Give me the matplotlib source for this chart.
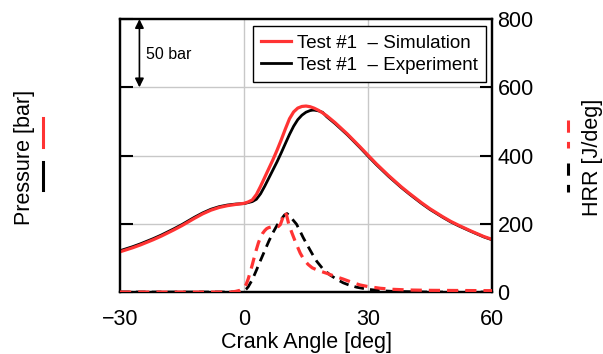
import numpy as np
import matplotlib
matplotlib.use("Agg")
from matplotlib import pyplot as plt
from matplotlib.lines import Line2D

plt.rcParams['font.family'] = ['Liberation Sans', 'DejaVu Sans']

# pressure [bar]
p_sim_ca = [-30, -27, -25, -22, -20, -17, -15, -12, -10, -8, -6, -4, -2, 0, 1, 2, 3, 4, 5, 6,
            7, 8, 9, 10, 11, 12, 13, 14, 15, 16, 17, 18, 19, 20, 22, 25, 28, 30, 32, 35, 38,
            40, 43, 45, 48, 50, 52, 55, 58, 60]
p_sim = [29.5, 32.4, 34.6, 38.3, 41.0, 45.5, 48.7, 54.0, 57.3, 60.0, 62.0, 63.3, 64.2, 65.0,
         66.0, 67.5, 71.5, 77.5, 84.0, 90.5, 97.0, 104.0, 111.5, 119.5, 127.0, 132.0, 134.8,
         136.0, 136.3, 135.8, 134.7, 133.2, 131.3, 129.2, 124.2, 115.8, 106.6, 100.3, 94.0,
         85.3, 77.2, 72.3, 65.3, 61.0, 55.3, 51.8, 48.8, 44.6, 40.7, 38.6]

p_exp_ca = [-30, -27, -25, -22, -20, -17, -15, -12, -10, -8, -6, -4, -2, 0, 2, 3, 4, 5, 6, 7,
            8, 9, 10, 11, 12, 13, 14, 15, 16, 16.6, 17, 18, 19, 20, 22, 25, 28, 30, 32, 35,
            38, 40, 43, 45, 48, 50, 52, 55, 58, 60]
p_exp = [30.3, 33.2, 35.4, 39.1, 41.8, 46.3, 49.5, 54.8, 58.0, 60.7, 62.6, 63.8, 64.5, 64.8,
         66.3, 68.0, 72.0, 77.5, 83.5, 89.5, 95.5, 102.0, 108.8, 115.5, 121.5, 126.3, 129.6,
         131.8, 133.0, 133.3, 133.3, 132.8, 131.7, 128.5, 123.5, 115.2, 106.0, 99.6, 93.4,
         84.7, 76.7, 71.8, 64.8, 60.5, 54.9, 51.4, 48.4, 44.3, 40.4, 38.3]

# heat release rate [J/deg]
hrr_sim_ca = [-30, -3, -2, -1, 0, 0.5, 1, 1.5, 2, 2.5, 3, 3.5, 4, 4.5, 5, 5.5, 6, 7, 7.7, 8.3,
              8.8, 9.3, 9.9, 10.3, 10.8, 11.6, 12.5, 13.6, 14.5, 15.5, 16.5, 18, 20, 22, 24,
              26, 28, 30, 33, 36, 40, 45, 60]
hrr_sim = [0, 0, 2, 5, 12, 22, 38, 58, 80, 103, 125, 145, 160, 172, 180, 186, 189, 192, 193,
           192, 198, 215, 235, 225, 200, 173, 145, 114, 95, 81, 71, 63, 55, 46, 38, 29, 21,
           16, 11, 8, 6, 5, 4]

hrr_exp_ca = [-30, -1, 0, 0.5, 1, 2, 3, 4, 5, 6, 7, 8, 9, 9.8, 10.4, 11, 11.8, 12.7, 13.5,
              14.3, 15.2, 16.5, 17.6, 19, 20.8, 22.5, 24, 25.5, 27.3, 30, 33, 36, 40, 45, 60]
hrr_exp = [0, 0, 3, 8, 15, 36, 64, 93, 121, 149, 174, 196, 213, 226, 230, 224, 212, 199, 180,
           160, 140, 112, 90, 69, 50, 37, 27, 20, 14, 8, 4, 2, 1, 0, 0]

red = '#ff3333'

fig = plt.figure(figsize=(6.03, 3.54), dpi=100)
ax = fig.add_axes([0.199, 0.175, 0.617, 0.771])
ax2 = ax.twinx()

ax.set_zorder(1)
ax2.set_zorder(2)

ax.set_xlim(-30, 60)
ax.set_ylim(0, 200)
ax2.set_ylim(0, 800)
ax.set_xticks([-30, 0, 30, 60])
ax.set_yticks([0, 50, 100, 150, 200])
ax2.set_yticks([0, 200, 400, 600, 800])
ax.set_yticklabels([])

# grid only on inner lines
for xv in [0, 30]:
    ax.axvline(xv, color='#c8c8c8', lw=1.0, zorder=0)
for yv in [50, 100, 150]:
    ax.axhline(yv, color='#c8c8c8', lw=1.0, zorder=0)

l_exp, = ax.plot(p_exp_ca, p_exp, color='black', lw=2.0, zorder=3)
l_sim, = ax.plot(p_sim_ca, p_sim, color=red, lw=2.3, zorder=4)

ax2.plot(hrr_exp_ca, hrr_exp, color='black', lw=2.0, ls=(0, (3.5, 2.2)), zorder=3)
ax2.plot(hrr_sim_ca, hrr_sim, color=red, lw=2.3, ls=(0, (3.5, 2.2)), zorder=4)

ax.tick_params(axis='y', direction='in', length=9, width=1.5, left=True, right=False)
ax.tick_params(axis='x', direction='in', length=0, labelsize=15.5, pad=12)
ax2.tick_params(axis='y', direction='in', length=9, width=1.5, labelsize=15.5, pad=4)
for a in (ax, ax2):
    for s in a.spines.values():
        s.set_linewidth(1.6)

ax.set_xlabel('Crank Angle [deg]', fontsize=15.5, labelpad=2)

# 50 bar scale arrow
ax.annotate('', xy=(-25.3, 200), xytext=(-25.3, 150),
            arrowprops=dict(arrowstyle='<|-|>', color='black', lw=1.2,
                            mutation_scale=13, shrinkA=0, shrinkB=0))
ax.text(-23.6, 174, '50 bar', fontsize=11.5, va='center', ha='left')

leg = ax2.legend([l_sim, l_exp], ['Test #1  \u2013 Simulation', 'Test #1  \u2013 Experiment'],
                 loc='upper right', bbox_to_anchor=(0.984, 0.975), fontsize=13.5,
                 frameon=True, fancybox=False, edgecolor='black', framealpha=1,
                 handlelength=1.6, handletextpad=0.3, borderpad=0.45, labelspacing=0.28,
                 borderaxespad=0)
leg.get_frame().set_linewidth(1.0)

# side labels with line keys
fig.text(0.040, 0.555, 'Pressure [bar]', rotation=90, fontsize=15.5, ha='center', va='center')
fig.add_artist(Line2D([0.0718, 0.0718], [1 - 118 / 354, 1 - 147 / 354], color=red, lw=2.2))
fig.add_artist(Line2D([0.0718, 0.0718], [1 - 162 / 354, 1 - 190 / 354], color='black', lw=2.2))

fig.text(0.983, 0.555, 'HRR [J/deg]', rotation=90, fontsize=15.5, ha='center', va='center')
fig.add_artist(Line2D([0.942, 0.942], [1 - 120 / 354, 1 - 148 / 354], color=red, lw=2.2,
                      ls=(0, (4, 3))))
fig.add_artist(Line2D([0.942, 0.942], [1 - 163 / 354, 1 - 192 / 354], color='black', lw=2.2,
                      ls=(0, (4, 3))))

fig.savefig('out.png', dpi=100)
